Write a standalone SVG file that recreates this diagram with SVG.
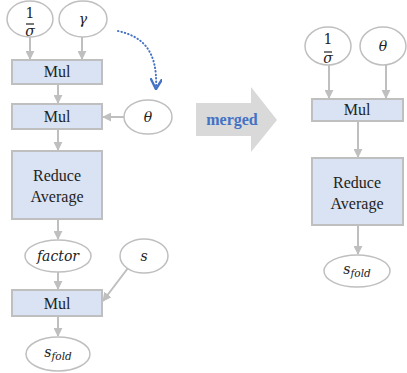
<svg xmlns="http://www.w3.org/2000/svg" width="407" height="373" viewBox="0 0 407 373">
  <style>
    .op { fill: #dae3f3; stroke: #bfbfbf; stroke-width: 2; }
    .var { fill: #ffffff; stroke: #bfbfbf; stroke-width: 1.5; }
    .lbl { font-family: "Liberation Serif", "Times New Roman", serif; font-size: 16px; fill: #222; text-anchor: middle; }
    .math { font-family: "DejaVu Serif", "Liberation Serif", serif; font-style: italic; font-size: 14px; fill: #222; text-anchor: middle; }
    .num { font-family: "DejaVu Serif", "Liberation Serif", serif; font-size: 14px; fill: #222; text-anchor: middle; }
    .sub { font-size: 10.5px; }
    .edge { stroke: #bfbfbf; stroke-width: 2; fill: none; marker-end: url(#head); }
    .bar { stroke: #222; stroke-width: 1.2; }
  </style>
  <defs>
    <marker id="head" viewBox="0 0 10 10" refX="9" refY="5" markerWidth="4.5" markerHeight="4.5" orient="auto" markerUnits="strokeWidth">
      <path d="M0,0 L10,5 L0,10 z" fill="#bfbfbf"/>
    </marker>
    <marker id="bluehead" viewBox="0 0 10 10" refX="8" refY="5" markerWidth="6" markerHeight="6" orient="auto" markerUnits="strokeWidth">
      <path d="M0,0 L9,5 L0,10" fill="none" stroke="#4472c4" stroke-width="2"/>
    </marker>
  </defs>

  <!-- connectors -->
  <g id="connectors">
    <line class="edge" x1="30" y1="37" x2="30" y2="59"/>
    <line class="edge" x1="82" y1="37" x2="82" y2="59"/>
    <line class="edge" x1="58" y1="85" x2="58" y2="103"/>
    <line class="edge" x1="124" y1="117" x2="103" y2="117"/>
    <line class="edge" x1="58" y1="130" x2="58" y2="150"/>
    <line class="edge" x1="58" y1="220" x2="58" y2="239"/>
    <line class="edge" x1="58" y1="272" x2="58" y2="289"/>
    <line class="edge" x1="128" y1="268" x2="103" y2="301"/>
    <line class="edge" x1="58" y1="317" x2="58" y2="336"/>
    <path d="M118,31 C140,36 158,48 156,88" fill="none" stroke="#4472c4" stroke-width="2" stroke-linecap="round" stroke-dasharray="0.5,3" marker-end="url(#bluehead)"/>
    <line class="edge" x1="329" y1="65" x2="329" y2="98"/>
    <line class="edge" x1="386" y1="65" x2="386" y2="98"/>
    <line class="edge" x1="358" y1="122" x2="358" y2="157"/>
    <line class="edge" x1="358" y1="226" x2="358" y2="254"/>
  </g>

  <!-- graph before merging -->
  <g id="inv-sigma-a">
    <ellipse class="var" cx="30" cy="19" rx="23" ry="18"/>
    <text class="num" x="30" y="18">1</text>
    <line class="bar" x1="26" y1="24" x2="34" y2="24"/>
    <text class="math" x="30" y="36">σ</text>
  </g>
  <g id="gamma">
    <ellipse class="var" cx="83" cy="19" rx="24" ry="18"/>
    <text class="math" x="83" y="24">γ</text>
  </g>
  <g id="mul-1">
    <rect class="op" x="12" y="60" width="90" height="24"/>
    <text class="lbl" x="57" y="77">Mul</text>
  </g>
  <g id="mul-2">
    <rect class="op" x="12" y="104" width="90" height="25"/>
    <text class="lbl" x="57" y="122">Mul</text>
  </g>
  <g id="theta-a">
    <ellipse class="var" cx="148" cy="117" rx="24" ry="17"/>
    <text class="math" x="148" y="122">θ</text>
  </g>
  <g id="reduce-a">
    <rect class="op" x="12" y="151" width="90" height="68"/>
    <text class="lbl" x="57" y="181">Reduce</text>
    <text class="lbl" x="57" y="202">Average</text>
  </g>
  <g id="factor">
    <ellipse class="var" cx="58" cy="256" rx="33" ry="16"/>
    <text class="math" x="58" y="261">factor</text>
  </g>
  <g id="s">
    <ellipse class="var" cx="144" cy="256" rx="24" ry="17"/>
    <text class="math" x="144" y="261" font-size="15">s</text>
  </g>
  <g id="mul-3">
    <rect class="op" x="12" y="290" width="90" height="26"/>
    <text class="lbl" x="57" y="309">Mul</text>
  </g>
  <g id="s-fold-a">
    <ellipse class="var" cx="58" cy="354" rx="32" ry="17"/>
    <text class="math" x="58" y="357" font-size="15">s<tspan class="sub" dy="3">fold</tspan></text>
  </g>

  <!-- merge arrow -->
  <g id="merged">
    <path d="M196,103 H251 V87 L277,120 L251,152 V136 H196 Z" fill="#d9d9d9"/>
    <text x="232" y="125" font-family="Liberation Serif, Times New Roman, serif" font-size="16" font-weight="bold" fill="#4472c4" text-anchor="middle">merged</text>
  </g>

  <!-- graph after merging -->
  <g id="inv-sigma-b">
    <ellipse class="var" cx="328" cy="46" rx="23" ry="19"/>
    <text class="num" x="328" y="44">1</text>
    <line class="bar" x1="324" y1="52" x2="332" y2="52"/>
    <text class="math" x="328" y="63">σ</text>
  </g>
  <g id="theta-b">
    <ellipse class="var" cx="383" cy="46" rx="23" ry="19"/>
    <text class="math" x="383" y="51">θ</text>
  </g>
  <g id="mul-b">
    <rect class="op" x="312" y="99" width="91" height="22"/>
    <text class="lbl" x="357" y="115">Mul</text>
  </g>
  <g id="reduce-b">
    <rect class="op" x="312" y="158" width="91" height="67"/>
    <text class="lbl" x="357" y="188">Reduce</text>
    <text class="lbl" x="357" y="209">Average</text>
  </g>
  <g id="s-fold-b">
    <ellipse class="var" cx="357" cy="271" rx="33" ry="16"/>
    <text class="math" x="357" y="274" font-size="15">s<tspan class="sub" dy="3">fold</tspan></text>
  </g>
</svg>
